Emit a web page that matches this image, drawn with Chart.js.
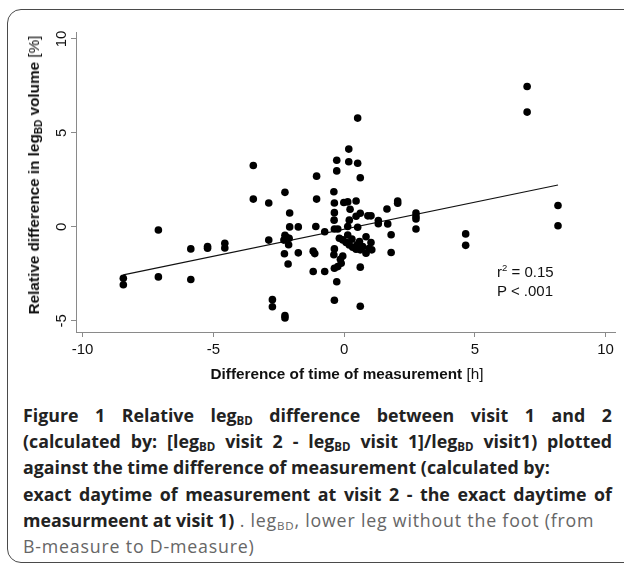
<!DOCTYPE html>
<html>
<head>
<meta charset="utf-8">
<script src="https://cdn.jsdelivr.net/npm/chart.js@4.4.1/dist/chart.umd.min.js"></script>
<style>
  html, body { margin: 0; padding: 0; background: #fff; }
  body { width: 624px; height: 566px; position: relative; overflow: hidden; }
  #frame { position: absolute; left: 7px; top: 9px; width: 660px; height: 552px;
           border: 1.5px solid #4a4a4a; border-radius: 14px; }
  #grafico { position: absolute; left: 0; top: 0; }
  .eixo { position: absolute; font-family: "Liberation Sans", Arial, sans-serif; font-size: 15.3px;
          color: #111; white-space: nowrap; }
  .eixo b { font-weight: bold; }
  .eixo sub { font-size: 10px; vertical-align: -3px; line-height: 0; }
  #tituloY { left: 34px; top: 175px; transform: translate(-50%, -50%) rotate(-90deg); }
  #tituloX { left: 347px; top: 374px; transform: translate(-50%, -50%); }
  #anot { left: 497px; top: 262px; line-height: 19px; font-size: 15px; }
  #anot sup { font-size: 9.5px; vertical-align: 6px; line-height: 0; }
  #legenda { position: absolute; left: 23px; top: 402px; width: 589px;
             font-family: "Open Sans", sans-serif; font-size: 17.8px; line-height: 26.2px; color: #666;
             letter-spacing: 0.8px; }
  #legenda div { white-space: nowrap; }
  #legenda .just { text-align: justify; text-align-last: justify; white-space: normal; }
  #legenda b { color: #222; font-weight: bold; letter-spacing: 0; }
  #legenda sub { font-size: 11.5px; vertical-align: -3px; line-height: 0; }
</style>
</head>
<body>
<div id="frame"></div>
<canvas id="grafico" width="624" height="400"></canvas>
<div class="eixo" id="tituloY"><b>Relative difference in leg<sub>BD</sub> volume</b> [%]</div>
<div class="eixo" id="tituloX"><b>Difference of time of measurement</b> [h]</div>
<div class="eixo" id="anot">r<sup>2</sup> = 0.15<br>P &lt; .001</div>
<div id="legenda">
  <div class="just"><b>Figure 1 Relative leg<sub>BD</sub> difference between visit 1 and 2</b></div>
  <div class="just"><b>(calculated by: [leg<sub>BD</sub> visit 2 - leg<sub>BD</sub> visit 1]/leg<sub>BD</sub> visit1) plotted</b></div>
  <div><b>against the time difference of measurement (calculated by:</b></div>
  <div class="just"><b>exact daytime of measurement at visit 2 - the exact daytime of</b></div>
  <div><b>measurmeent at visit 1)</b> . leg<sub>BD</sub>, lower leg without the foot (from</div>
  <div>B-measure to D-measure)</div>
</div>
<script>
// diferença de hora da medição [h]
const difHora = [
  -8.44, -8.44, -7.10, -7.10, -5.86, -5.86, -5.22, -5.22, -4.56, -4.56,
  -3.47, -3.47, -2.88, -2.88, -2.74, -2.74, -2.26, -2.26, -2.20, -2.30,
  -2.28, -2.26, -2.26, -2.14, -2.10, -2.08, -2.08, -2.12, -1.75, -1.75,
  -1.18, -1.12, -1.18, -1.08, -1.05, -1.05, -0.74, -0.74, -0.39, -0.37,
  -0.37, -0.38, -0.37, -0.28, -0.28, -0.24, -0.18, -0.37, -0.39, -0.14,
  -0.11, -0.24, -0.37, -0.28, -0.37, -0.05, 0.08, 0.20, 0.33, 0.46,
  0.62, 0.84, 1.06, 1.03, 0.84, 0.59, 0.14, 0.71, -0.01, 0.14,
  0.18, 0.18, 0.23, 0.46, 0.52, 0.52, 0.62, 0.46, 0.62, 0.14,
  0.52, 0.20, 0.91, 1.03, 0.62, 0.62, 1.31, 1.31, 1.64, 1.67,
  1.80, 1.80, 2.05, 2.05, 2.75, 2.75, 2.75, 2.75, 4.65, 4.65,
  7.00, 7.00, 8.18, 8.18, -0.05, 0.30, 0.50, 0.95
];
// diferença relativa no volume legBD [%]
const difVolume = [
  -2.73, -3.08, -0.16, -2.66, -1.17, -2.80, -1.04, -1.13, -0.87, -1.12,
  3.27, 1.48, 1.27, -0.70, -3.87, -4.25, 1.84, -0.44, -0.55, -0.70,
  -1.43, -4.72, -4.84, -1.97, -0.60, 0.74, 0.00, -0.95, 0.00, -1.38,
  -1.29, -1.42, -2.37, 0.02, 2.70, 1.48, -2.37, -0.26, 1.87, 1.27,
  0.76, 0.36, -0.11, 3.55, 2.98, -0.11, -0.60, -1.17, -1.48, -1.72,
  -1.93, -2.11, -2.20, -2.92, -3.90, -0.69, -0.83, -0.96, -1.08, -1.19,
  -1.22, -1.40, -1.22, -0.83, -0.52, -0.78, -0.43, -1.05, 1.30, 1.33,
  4.14, 3.47, 0.94, 1.38, 5.79, 3.39, 2.62, 0.57, 0.73, 0.02,
  -0.02, 0.36, 0.59, 0.59, -2.14, -4.22, 0.34, 0.17, 0.95, 0.16,
  -0.42, -1.36, 1.38, 1.26, 0.74, 0.56, 0.42, -0.11, -0.37, -0.98,
  7.47, 6.11, 1.14, 0.06, -1.55, -0.65, -0.95, -1.15
];
// reta de regressão (extremos)
const retaX = [-8.44, 8.18];
const retaY = [-2.55, 2.23];
// marcas dos eixos
const ticksX = [-10, -5, 0, 5, 10];
const ticksY = [-5, 0, 5, 10];

const pontos = difHora.map((x, i) => ({ x: x, y: difVolume[i] }));
const reta = retaX.map((x, i) => ({ x: x, y: retaY[i] }));

const corEixo = '#8a8a8a';
const fonteTick = { family: '"Liberation Sans", Arial, sans-serif', size: 15 };

new Chart(document.getElementById('grafico'), {
  type: 'scatter',
  data: {
    datasets: [
      {
        label: 'Medições',
        data: pontos,
        backgroundColor: '#000',
        borderColor: '#000',
        pointRadius: 3.8,
        pointBorderWidth: 0
      },
      {
        type: 'line',
        label: 'Regressão',
        data: reta,
        borderColor: '#111',
        borderWidth: 1.2,
        pointRadius: 0,
        fill: false
      }
    ]
  },
  options: {
    responsive: false,
    animation: false,
    layout: { padding: { top: 32, right: 9, left: 0, bottom: 0 } },
    plugins: { legend: { display: false }, tooltip: { enabled: false } },
    scales: {
      x: {
        type: 'linear',
        min: -10.25,
        max: 10.36,
        afterBuildTicks: (s) => { s.ticks = ticksX.map(v => ({ value: v })); },
        afterFit: (s) => { s.height = 68; },
        ticks: { color: '#111', font: fonteTick, padding: 4, minRotation: 0, maxRotation: 0 },
        grid: { display: true, drawOnChartArea: false, drawTicks: true, tickLength: 5, color: corEixo },
        border: { display: true, color: corEixo, width: 1 }
      },
      y: {
        type: 'linear',
        min: -5.59,
        max: 10.37,
        afterBuildTicks: (s) => { s.ticks = ticksY.map(v => ({ value: v })); },
        afterFit: (s) => { s.width = 76; },
        ticks: { color: '#111', font: fonteTick, padding: 1, minRotation: 90, maxRotation: 90, crossAlign: 'center' },
        grid: { display: true, drawOnChartArea: false, drawTicks: true, tickLength: 5, color: corEixo },
        border: { display: true, color: corEixo, width: 1 }
      }
    }
  }
});
</script>
</body>
</html>
